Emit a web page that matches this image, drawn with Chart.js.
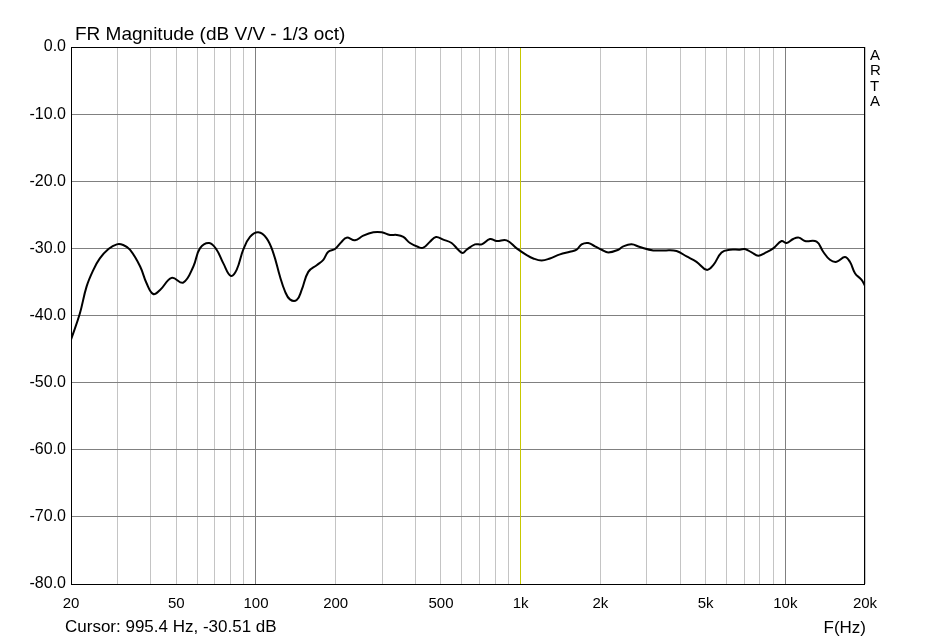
<!DOCTYPE html>
<html>
<head>
<meta charset="utf-8">
<script src="https://cdn.jsdelivr.net/npm/chart.js@4.4.1/dist/chart.umd.min.js"></script>
<style>
  body { margin: 0; background: #fff; }
  canvas { display: block; }
</style>
</head>
<body>
<canvas id="myChart" width="937" height="641"></canvas>
<script>
// frequency points (Hz)
var freqs = [20, 21.6, 22.9, 24.3, 25.7, 27.7, 29.8, 31.5, 33.4, 36.5, 38.6, 40.9, 43.4, 48, 53.1,
  58, 61.4, 66.6, 71, 75.2, 80.3, 84.5, 89.5, 94.9, 102, 109.7, 116.3, 123.2, 128.7, 134.3, 142.5,
  148.8, 157.6, 169.6, 179.6, 187.6, 198.8, 210.8, 220.1, 236.6, 254.3, 277.5, 298.5, 320.8, 340.2,
  360.4, 381.9, 410.5, 428.7, 454.3, 478.6, 509.9, 548.4, 580.8, 603.7, 625.1, 671.9, 712.3, 765.5,
  811.6, 885.3, 966, 1054, 1116, 1200, 1290, 1408, 1535, 1627, 1699, 1800, 1909, 2023, 2143, 2338,
  2442, 2625, 2822, 3170, 3508, 3882, 4236, 4619, 5043, 5342, 5742, 6173, 6735, 7030, 7457, 7900,
  8370, 9000, 9680, 10110, 10710, 11250, 11860, 13130, 13900, 14740, 15620, 16790, 17540, 18330,
  19420, 20000];
// magnitude (dB)
var magnitude = [-43.6, -39.7, -35.7, -33.2, -31.5, -30.1, -29.4, -29.5, -30.2, -32.7, -35.2, -36.8, -36.2, -34.4, -35.1,
  -32.7, -30.0, -29.2, -30.2, -32.2, -34.1, -33.2, -30.2, -28.3, -27.6, -28.5, -30.7, -34.2, -36.4, -37.6, -37.7,
  -36.2, -33.5, -32.5, -31.7, -30.5, -30.1, -29.0, -28.4, -28.8, -28.1, -27.6, -27.6, -28.0, -28.0,
  -28.3, -29.2, -29.8, -29.9, -29.0, -28.3, -28.7, -29.2, -30.2, -30.7, -30.2, -29.4, -29.4, -28.6,
  -28.9, -28.8, -30.0, -31.0, -31.5, -31.8, -31.5, -30.9, -30.5, -30.2, -29.4, -29.2, -29.7, -30.2, -30.6, -30.2,
  -29.7, -29.4, -29.8, -30.3, -30.3, -30.4, -31.2, -32.0, -33.2, -32.5, -30.6, -30.2, -30.2, -30.1, -30.6, -31.1,
  -30.7, -30.0, -28.9, -29.2, -28.6, -28.4, -28.9, -29.0, -30.5, -31.7, -32.0, -31.3, -32.0, -33.7,
  -34.7, -35.6];

var xGridVals = [20, 30, 40, 50, 60, 70, 80, 90, 100, 200, 300, 400, 500, 600, 700, 800, 900,
  1000, 2000, 3000, 4000, 5000, 6000, 7000, 8000, 9000, 10000, 20000];
var xLabelVals = [20, 50, 100, 200, 500, 1000, 2000, 5000, 10000, 20000];
var xLabels = ['20', '50', '100', '200', '500', '1k', '2k', '5k', '10k', '20k'];
var cursorFreq = 995.4;

var points = freqs.map(function (f, i) { return { x: f, y: magnitude[i] }; });

var fontFam = '"Liberation Sans", Arial, sans-serif';

// title, frame, cursor line and side texts
var artaPlugin = {
  id: 'arta',
  beforeDatasetsDraw: function (chart) {
    var c = chart.ctx, a = chart.chartArea;
    var x = chart.scales.x.getPixelForValue(cursorFreq);
    c.save();
    c.strokeStyle = '#c8c800';
    c.lineWidth = 1;
    c.beginPath();
    c.moveTo(Math.round(x) + 0.5, a.top);
    c.lineTo(Math.round(x) + 0.5, a.bottom);
    c.stroke();
    c.restore();
  },
  afterDraw: function (chart) {
    var c = chart.ctx, a = chart.chartArea;
    c.save();
    c.strokeStyle = '#000';
    c.lineWidth = 1;
    c.strokeRect(a.left + 0.5, a.top + 0.5, a.right - a.left - 1, a.bottom - a.top);
    c.fillStyle = '#000';
    c.textBaseline = 'alphabetic';
    c.textAlign = 'left';
    c.font = '19px ' + fontFam;
    c.fillText('FR Magnitude (dB V/V - 1/3 oct)', 75, 40);
    c.font = '17px ' + fontFam;
    c.fillText('Cursor: 995.4 Hz, -30.51 dB', 65, 632);
    c.textAlign = 'right';
    c.fillText('F(Hz)', 866, 633);
    c.font = '15px ' + fontFam;
    c.textAlign = 'left';
    ['A', 'R', 'T', 'A'].forEach(function (ch, i) {
      c.fillText(ch, 870, 60 + i * 15.3);
    });
    c.restore();
  }
};

var ctx = document.getElementById('myChart').getContext('2d');
var chart = new Chart(ctx, {
  type: 'line',
  data: {
    datasets: [{
      label: 'FR Magnitude',
      data: points,
      borderColor: '#000',
      borderWidth: 2,
      pointRadius: 0,
      tension: 0.4,
      fill: false
    }]
  },
  options: {
    responsive: false,
    animation: false,
    layout: { padding: { left: 0, top: 47, right: 72, bottom: 0 } },
    plugins: {
      legend: { display: false },
      tooltip: { enabled: false }
    },
    scales: {
      x: {
        type: 'logarithmic',
        min: 20,
        max: 20000,
        afterBuildTicks: function (scale) {
          scale.ticks = xGridVals.map(function (v) { return { value: v }; });
        },
        afterFit: function (scale) { scale.height = 57; },
        grid: {
          drawTicks: false,
          color: function (c) {
            var v = c.tick && c.tick.value;
            return (v === 100 || v === 1000 || v === 10000) ? '#808080' : '#c4c4c4';
          }
        },
        border: { display: false },
        ticks: {
          autoSkip: false,
          maxRotation: 0,
          padding: 11,
          color: '#000',
          font: { family: fontFam, size: 15 },
          callback: function (v) {
            var i = xLabelVals.indexOf(v);
            return i >= 0 ? xLabels[i] : '';
          }
        }
      },
      y: {
        min: -80,
        max: 0,
        afterFit: function (scale) { scale.width = 71; },
        grid: { drawTicks: false, color: '#808080' },
        border: { display: false },
        ticks: {
          stepSize: 10,
          padding: 5,
          color: '#000',
          font: { family: fontFam, size: 16 },
          callback: function (v) { return v.toFixed(1); }
        }
      }
    }
  },
  plugins: [artaPlugin]
});
</script>
</body>
</html>
